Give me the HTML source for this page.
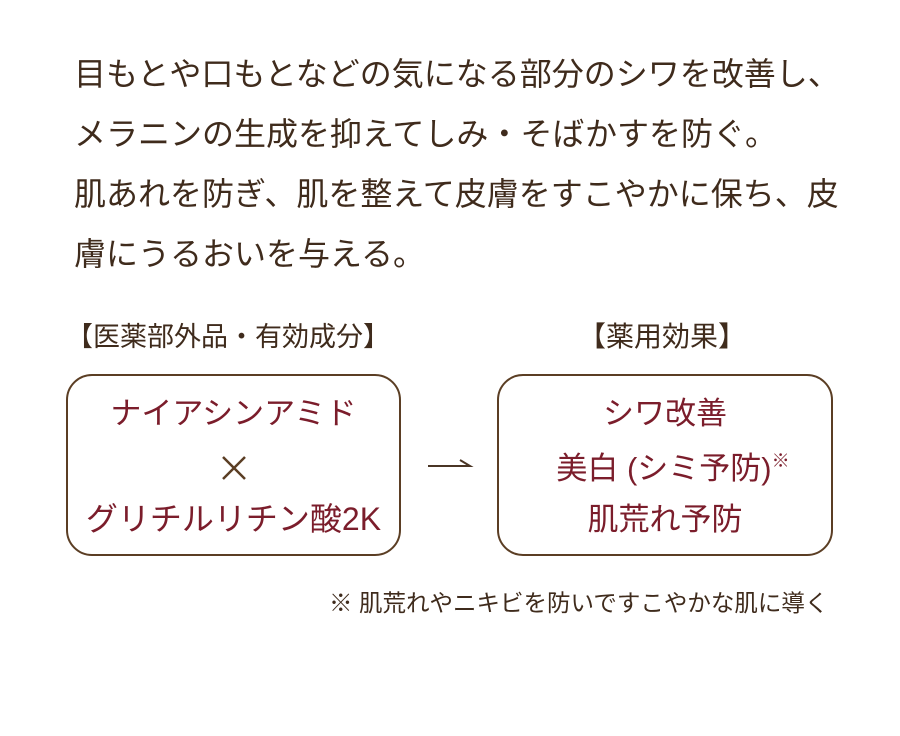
<!DOCTYPE html>
<html><head><meta charset="utf-8"><style>
body{margin:0;width:900px;height:736px;background:#fff;position:relative;overflow:hidden;font-family:"Liberation Sans","Noto Sans CJK JP",sans-serif;color:#3f2b1c}
.t{position:absolute;white-space:nowrap}
.box{position:absolute;border:2.5px solid #5b3e24;border-radius:26px;box-sizing:border-box}
.r{color:#7b1d2b;font-size:31px;text-align:center;position:absolute;width:100%;line-height:1}
</style></head><body>
<div class="t" style="left:74px;top:44px;font-size:32px;line-height:60px">目もとや口もとなどの気になる部分のシワを改善し、<br>メラニンの生成を抑えてしみ・そばかすを防ぐ。<br>肌あれを防ぎ、肌を整えて皮膚をすこやかに保ち、皮<br>膚にうるおいを与える。</div>
<div class="t" style="left:66px;top:315px;font-size:27px">【医薬部外品・有効成分】</div>
<div class="t" style="left:578px;top:315px;font-size:28px">【薬用効果】</div>
<div class="box" style="left:66px;top:374px;width:335px;height:182px">
<div class="r" style="top:22px">ナイアシンアミド</div>
<svg style="position:absolute;left:153px;top:79px" width="26" height="26"><path d="M2 2L24 24M24 2L2 24" stroke="#5b3e24" stroke-width="2.5"/></svg>
<div class="r" style="top:127px;font-size:32px">グリチルリチン酸2K</div>
</div>
<svg style="position:absolute;left:420px;top:450px" width="60" height="30"><path d="M8 16H50L40 10" fill="none" stroke="#4a3525" stroke-width="2"/></svg>
<div class="box" style="left:497px;top:374px;width:336px;height:182px">
<div class="r" style="top:22px">シワ改善</div>
<div class="r" style="top:76px;left:8px">美白 (シミ予防)<sup style="font-size:18px;vertical-align:12px">※</sup></div>
<div class="r" style="top:128px">肌荒れ予防</div>
</div>
<div class="t" style="left:329px;top:584px;font-size:23.5px">※ 肌荒れやニキビを防いですこやかな肌に導く</div>
</body></html>
